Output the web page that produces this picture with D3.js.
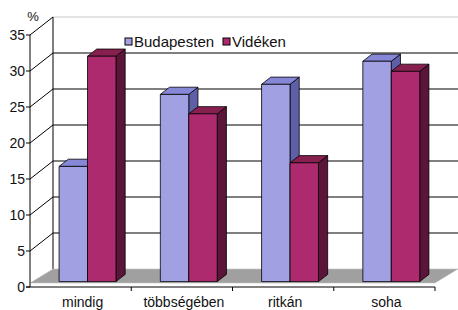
<!DOCTYPE html>
<html>
<head>
<meta charset="utf-8">
<script src="https://cdn.jsdelivr.net/npm/d3@7"></script>
<style>
  body { margin: 0; background: #fff; }
  svg { display: block; font-family: "Liberation Sans", Arial, sans-serif; }
</style>
</head>
<body>
<svg id="chart" width="458" height="310"></svg>
<script>
const categories = ['mindig', 'többségében', 'ritkán', 'soha'];
const seriesNames = ['Budapesten', 'Vidéken'];
const budapesten = [16, 26, 27.4, 30.6];
const videken = [31.3, 23.3, 16.5, 29.2];
const yTicks = [0, 5, 10, 15, 20, 25, 30, 35];

const colors = {
  Budapesten: { front: '#a0a0e2', side: '#5f5fa8', top: '#8787d8' },
  'Vidéken': { front: '#ae2a6e', side: '#5a1538', top: '#88204f' }
};

const svg = d3.select('#chart');

// 3D depth offset of the plot (back wall relative to the front)
const depthX = 23, depthY = -18;
const barDepth0 = 0.3, barDepth1 = 0.7;

const x0 = d3.scaleBand().domain(categories).range([30, 435]);
const x1 = d3.scaleBand().domain(seriesNames).range([0, x0.bandwidth()]).paddingOuter(0.78);
const y = d3.scaleLinear().domain([0, 35]).range([287, 35]);

const proj = (px, v, d) => [px + d * depthX, y(v) + d * depthY];
const poly = pts => 'M' + pts.map(p => p.join(',')).join('L') + 'Z';

const g = svg.append('g');

// side wall diagonals
g.selectAll('.side-grid')
  .data(yTicks.filter(t => t > 0))
  .join('line')
  .attr('x1', 30).attr('y1', d => y(d))
  .attr('x2', 30 + depthX).attr('y2', d => y(d) + depthY)
  .attr('stroke', '#000').attr('stroke-width', 1);

// back wall grid
g.selectAll('.back-grid')
  .data(yTicks.filter(t => t > 0))
  .join('line')
  .attr('x1', 30 + depthX).attr('y1', d => y(d) + depthY)
  .attr('x2', 458).attr('y2', d => y(d) + depthY)
  .attr('stroke', d => d === 35 ? '#c8c8c8' : '#000')
  .attr('stroke-width', 1);

// back wall left edge
g.append('line')
  .attr('x1', 30 + depthX).attr('y1', y(35) + depthY)
  .attr('x2', 30 + depthX).attr('y2', y(0) + depthY)
  .attr('stroke', '#000');

// floor
g.append('path')
  .attr('d', poly([
    [30, y(0) - 4], [435, y(0) - 4],
    [435 + depthX, y(0) + depthY], [30 + depthX, y(0) + depthY]
  ]))
  .attr('fill', '#a0a0a0')
  .attr('stroke', '#c4c4c4').attr('stroke-width', 0.6);

// legend
const legend = svg.append('g');
const legendX = [125, 223];
seriesNames.forEach((s, i) => {
  legend.append('rect')
    .attr('x', legendX[i]).attr('y', 38).attr('width', 7).attr('height', 7)
    .attr('fill', colors[s].front).attr('stroke', '#000').attr('stroke-width', 1);
  legend.append('text')
    .attr('x', legendX[i] + 9).attr('y', 47)
    .attr('font-size', 15).attr('fill', '#111')
    .text(s);
});

// bars
const rows = [];
categories.forEach((c, i) => {
  rows.push({ cat: c, s: 'Budapesten', v: budapesten[i] });
  rows.push({ cat: c, s: 'Vidéken', v: videken[i] });
});

const bars = g.selectAll('.bar').data(rows).join('g').attr('class', 'bar');
bars.each(function (d) {
  const sel = d3.select(this);
  const xl = x0(d.cat) + x1(d.s);
  const xr = xl + x1.bandwidth();
  const c = colors[d.s];
  // right side face
  sel.append('path')
    .attr('d', poly([proj(xr, 0, barDepth0), proj(xr, 0, barDepth1), proj(xr, d.v, barDepth1), proj(xr, d.v, barDepth0)]))
    .attr('fill', c.side).attr('stroke', '#000').attr('stroke-width', 0.8);
  // top face
  sel.append('path')
    .attr('d', poly([proj(xl, d.v, barDepth0), proj(xr, d.v, barDepth0), proj(xr, d.v, barDepth1), proj(xl, d.v, barDepth1)]))
    .attr('fill', c.top).attr('stroke', '#000').attr('stroke-width', 0.8);
  // front face
  sel.append('path')
    .attr('d', poly([proj(xl, 0, barDepth0), proj(xr, 0, barDepth0), proj(xr, d.v, barDepth0), proj(xl, d.v, barDepth0)]))
    .attr('fill', c.front).attr('stroke', '#000').attr('stroke-width', 0.8);
});

// front y axis
const yAxis = svg.append('g');
yAxis.append('line')
  .attr('x1', 30).attr('y1', y(0)).attr('x2', 30).attr('y2', y(35))
  .attr('stroke', '#000');
yAxis.selectAll('.ytick')
  .data(yTicks)
  .join('line')
  .attr('x1', 26).attr('x2', 30)
  .attr('y1', d => y(d)).attr('y2', d => y(d))
  .attr('stroke', '#000');
yAxis.selectAll('.ylabel')
  .data(yTicks)
  .join('text')
  .attr('x', 25).attr('y', d => y(d) + 5)
  .attr('text-anchor', 'end')
  .attr('font-size', 14).attr('fill', '#111')
  .text(d => d);
svg.append('text')
  .attr('x', 33).attr('y', 21)
  .attr('text-anchor', 'middle')
  .attr('font-size', 13).attr('fill', '#111')
  .text('%');

// front x axis
const xAxis = svg.append('g');
xAxis.append('line')
  .attr('x1', 26).attr('y1', y(0)).attr('x2', 435).attr('y2', y(0))
  .attr('stroke', '#000');
xAxis.selectAll('.xtick')
  .data(categories.slice(1).concat(['end']))
  .join('line')
  .attr('x1', (d, i) => x0.range()[0] + x0.step() * (i + 1))
  .attr('x2', (d, i) => x0.range()[0] + x0.step() * (i + 1))
  .attr('y1', y(0)).attr('y2', y(0) + 4)
  .attr('stroke', '#000');
xAxis.selectAll('.xlabel')
  .data(categories)
  .join('text')
  .attr('x', d => x0(d) + x0.bandwidth() / 2 + 2)
  .attr('y', 307)
  .attr('text-anchor', 'middle')
  .attr('font-size', 14).attr('fill', '#111')
  .text(d => d);
</script>
</body>
</html>
